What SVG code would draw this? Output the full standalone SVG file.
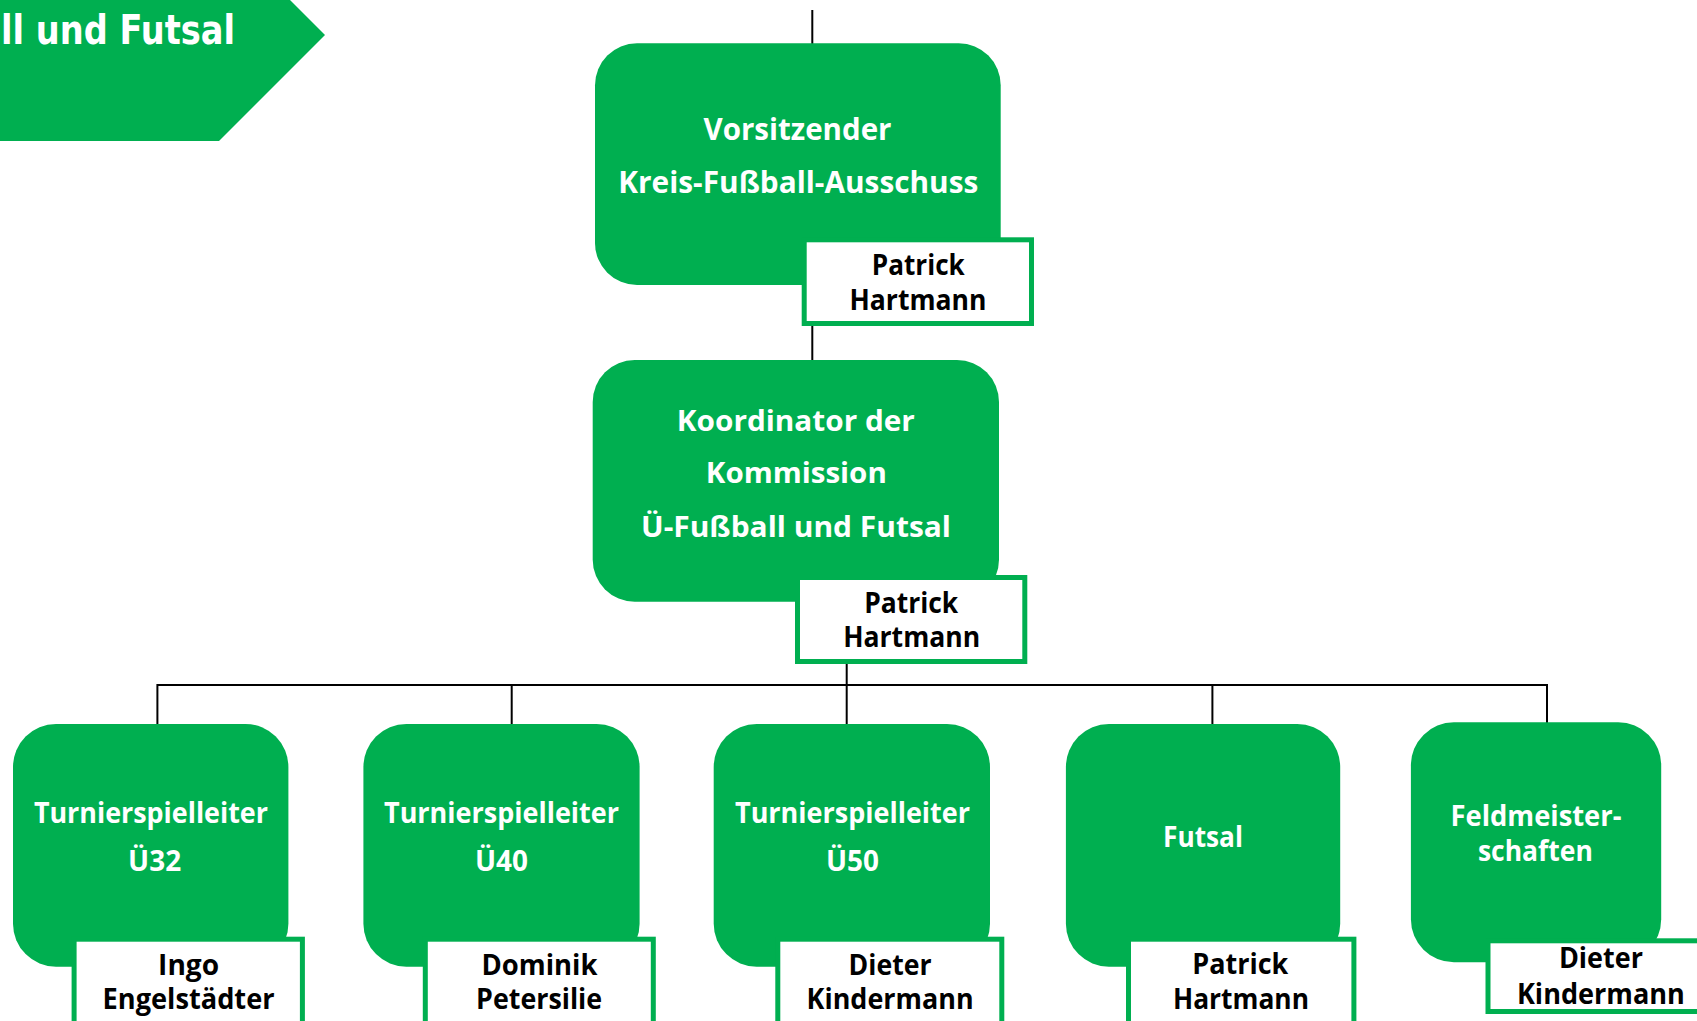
<svg xmlns="http://www.w3.org/2000/svg" width="1697" height="1021" viewBox="0 0 1697 1021">
<style>
.node{fill:#00AF50}
.name{fill:#FFFFFF;stroke:#00AF50;stroke-width:5}
.wt{fill:#FFFFFF;font-family:"Open Sans","Noto Sans","DejaVu Sans",sans-serif;font-weight:700;text-anchor:middle}
.bt{fill:#000000;font-family:"Open Sans","Noto Sans","DejaVu Sans",sans-serif;font-weight:700;font-size:28px;text-anchor:middle}
.conn{stroke:#000000;stroke-width:2;fill:none}
.banner{fill:#FFFFFF;font-family:"DejaVu Sans","Liberation Sans",sans-serif;font-weight:700;font-size:40px}
</style>
<g id="banner">
<polygon points="-5,-5 285,-5 325,35 219,141 -5,141" class="node"/>
<text x="1" y="44" class="banner" textLength="234" lengthAdjust="spacingAndGlyphs">ll und Futsal</text>
</g>
<g id="connectors">
<line class="conn" x1="812.3" y1="10" x2="812.3" y2="44"/>
<line class="conn" x1="812.3" y1="326" x2="812.3" y2="361"/>
<line class="conn" x1="846.7" y1="664" x2="846.7" y2="725"/>
<line class="conn" x1="157.4" y1="685" x2="1547" y2="685"/>
<line class="conn" x1="157.4" y1="684" x2="157.4" y2="725"/>
<line class="conn" x1="511.7" y1="684" x2="511.7" y2="725"/>
<line class="conn" x1="1212.4" y1="684" x2="1212.4" y2="725"/>
<line class="conn" x1="1547" y1="684" x2="1547" y2="723"/>
</g>
<g id="node-vorsitzender">
<rect class="node" x="595" y="43.3" width="405.7" height="241.7" rx="42"/>
<text class="wt" font-size="31" x="797.5" y="140" textLength="188" lengthAdjust="spacingAndGlyphs">Vorsitzender</text>
<text class="wt" font-size="31" x="798.3" y="193.3" textLength="360" lengthAdjust="spacingAndGlyphs">Kreis-Fußball-Ausschuss</text>
<rect class="name" x="804.2" y="239.8" width="227.3" height="83.7"/>
<text class="bt" x="918.3" y="275" textLength="93" lengthAdjust="spacingAndGlyphs">Patrick</text>
<text class="bt" x="918" y="310" textLength="137" lengthAdjust="spacingAndGlyphs">Hartmann</text>
</g>
<g id="node-koordinator">
<rect class="node" x="592.7" y="360" width="406.3" height="241.7" rx="42"/>
<text class="wt" font-size="29" x="795.8" y="430.7" textLength="238" lengthAdjust="spacingAndGlyphs">Koordinator der</text>
<text class="wt" font-size="29" x="796.3" y="483.3" textLength="181" lengthAdjust="spacingAndGlyphs">Kommission</text>
<text class="wt" font-size="29" x="796" y="536.7" textLength="310" lengthAdjust="spacingAndGlyphs">Ü-Fußball und Futsal</text>
<rect class="name" x="797.5" y="577.5" width="227.3" height="84"/>
<text class="bt" x="911.2" y="612.7" textLength="94" lengthAdjust="spacingAndGlyphs">Patrick</text>
<text class="bt" x="911.7" y="647.3" textLength="137" lengthAdjust="spacingAndGlyphs">Hartmann</text>
</g>
<g id="node-u32">
<rect class="node" x="13" y="724" width="275.4" height="242.7" rx="43"/>
<text class="wt" font-size="29" x="150.9" y="823.3" textLength="234" lengthAdjust="spacingAndGlyphs">Turnierspielleiter</text>
<text class="wt" font-size="29" x="154.6" y="871" textLength="53" lengthAdjust="spacingAndGlyphs">Ü32</text>
<rect class="name" x="74.1" y="939.2" width="228.3" height="100"/>
<text class="bt" x="188.6" y="975" textLength="61" lengthAdjust="spacingAndGlyphs">Ingo</text>
<text class="bt" x="188.6" y="1009.3" textLength="172" lengthAdjust="spacingAndGlyphs">Engelstädter</text>
</g>
<g id="node-u40">
<rect class="node" x="363.4" y="724" width="276.2" height="242.7" rx="43"/>
<text class="wt" font-size="29" x="501.5" y="823.3" textLength="235" lengthAdjust="spacingAndGlyphs">Turnierspielleiter</text>
<text class="wt" font-size="29" x="501.5" y="871" textLength="53" lengthAdjust="spacingAndGlyphs">Ü40</text>
<rect class="name" x="425.3" y="939.2" width="228" height="100"/>
<text class="bt" x="539.5" y="975" textLength="116" lengthAdjust="spacingAndGlyphs">Dominik</text>
<text class="bt" x="539.1" y="1009.3" textLength="126" lengthAdjust="spacingAndGlyphs">Petersilie</text>
</g>
<g id="node-u50">
<rect class="node" x="713.7" y="724" width="276.3" height="242.7" rx="43"/>
<text class="wt" font-size="29" x="852.5" y="823.3" textLength="235" lengthAdjust="spacingAndGlyphs">Turnierspielleiter</text>
<text class="wt" font-size="29" x="852.5" y="871" textLength="53" lengthAdjust="spacingAndGlyphs">Ü50</text>
<rect class="name" x="777.8" y="939.2" width="224" height="100"/>
<text class="bt" x="890.1" y="975" textLength="83" lengthAdjust="spacingAndGlyphs">Dieter</text>
<text class="bt" x="890.1" y="1009.3" textLength="167" lengthAdjust="spacingAndGlyphs">Kindermann</text>
</g>
<g id="node-futsal">
<rect class="node" x="1065.9" y="724" width="274.3" height="242.7" rx="43"/>
<text class="wt" font-size="29" x="1203" y="846.7" textLength="80" lengthAdjust="spacingAndGlyphs">Futsal</text>
<rect class="name" x="1128.5" y="939.2" width="225.4" height="100"/>
<text class="bt" x="1240.3" y="974" textLength="96" lengthAdjust="spacingAndGlyphs">Patrick</text>
<text class="bt" x="1241" y="1009.3" textLength="136" lengthAdjust="spacingAndGlyphs">Hartmann</text>
</g>
<g id="node-feldmeisterschaften">
<rect class="node" x="1410.9" y="722.3" width="250.3" height="240" rx="43"/>
<text class="wt" font-size="28" x="1536" y="826" textLength="171" lengthAdjust="spacingAndGlyphs">Feldmeister-</text>
<text class="wt" font-size="28" x="1535.4" y="861" textLength="115" lengthAdjust="spacingAndGlyphs">schaften</text>
<rect class="name" x="1488" y="940.8" width="250" height="70.7"/>
<text class="bt" x="1600.9" y="968.3" textLength="84" lengthAdjust="spacingAndGlyphs">Dieter</text>
<text class="bt" x="1600.9" y="1004.3" textLength="168" lengthAdjust="spacingAndGlyphs">Kindermann</text>
</g>
</svg>
